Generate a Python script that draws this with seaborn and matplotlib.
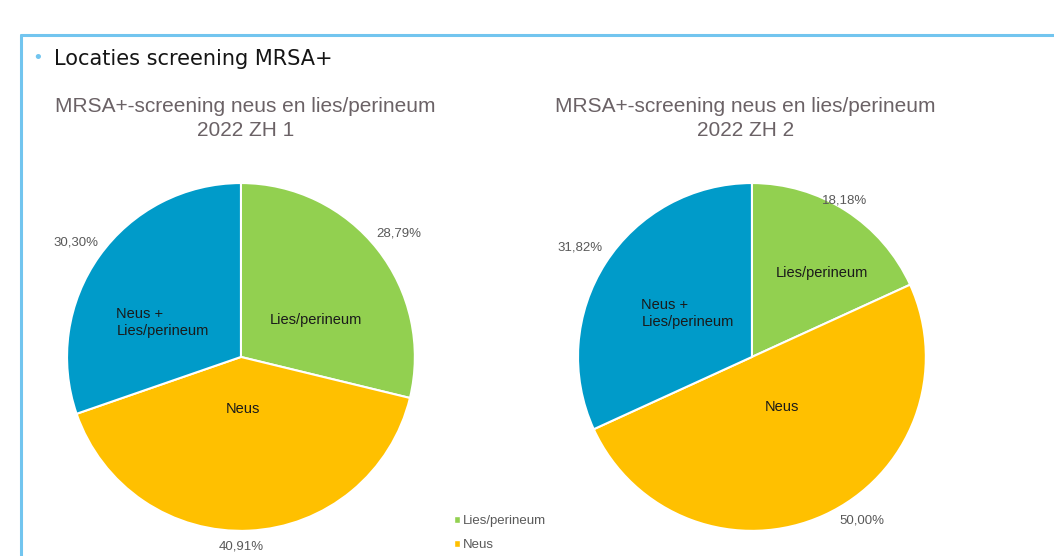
import matplotlib
matplotlib.use("Agg")
import matplotlib.pyplot as plt
from matplotlib.lines import Line2D
from matplotlib.patches import Patch
import seaborn as sns

# data
categories = ["Lies/perineum", "Neus", "Neus +\nLies/perineum"]
zh1_values = [28.79, 40.91, 30.30]
zh2_values = [18.18, 50.00, 31.82]
chart_titles = ["MRSA+-screening neus en lies/perineum\n2022 ZH 1",
                "MRSA+-screening neus en lies/perineum\n2022 ZH 2"]
slide_title = "Locaties screening MRSA+"

colors = ["#92D050", "#FFC000", "#009BC9"]
frame_blue = "#72C5EF"
title_grey = "#6B6266"
label_grey = "#595959"

sns.set_theme(style="white")
plt.rcParams["font.family"] = ["Liberation Sans", "DejaVu Sans"]

fig = plt.figure(figsize=(10.54, 5.56), dpi=100)

# slide frame
fig.add_artist(Line2D([0.020, 1.0], [0.937, 0.937], color=frame_blue, lw=2.2))
fig.add_artist(Line2D([0.020, 0.020], [0.0, 0.937], color=frame_blue, lw=2.2))

fig.text(0.036, 0.895, "\u2022", color=frame_blue, fontsize=14, va="center", ha="center")
fig.text(0.051, 0.893, slide_title, family="DejaVu Sans", fontsize=15,
         color="#151515", va="center", ha="left")

# label positions in pie units (radius = 1), per chart
inner_pos = [[(0.43, 0.21), (0.01, -0.30), (-0.45, 0.20)],
             [(0.40, 0.48), (0.17, -0.29), (-0.37, 0.25)]]
pct_pos = [[(0.91, 0.71), (0.0, -1.09), (-0.95, 0.66)],
           [(0.53, 0.90), (0.63, -0.94), (-0.99, 0.63)]]
ax_left = [0.0636, 0.5484]
title_x = [0.233, 0.707]

for i, vals in enumerate([zh1_values, zh2_values]):
    ax = fig.add_axes([ax_left[i], 0.045, 0.330, 0.626])
    ax.pie(vals, colors=colors, startangle=90, counterclock=False,
           wedgeprops=dict(edgecolor="white", linewidth=1.5))
    ax.set_xlim(-1, 1)
    ax.set_ylim(-1, 1)
    ax.set_aspect("equal")
    ax.axis("off")
    for cat, (x, y) in zip(categories, inner_pos[i]):
        ax.text(x, y, cat, ha="center", va="center", multialignment="left",
                fontsize=10.5, color="#1A1A1A", linespacing=1.3)
    for v, (x, y) in zip(vals, pct_pos[i]):
        ax.text(x, y, f"{v:.2f}%".replace(".", ","), ha="center", va="center",
                fontsize=9.5, color=label_grey)
    fig.text(title_x[i], 0.787, chart_titles[i], ha="center", va="center",
             fontsize=15, color=title_grey, linespacing=1.3)

# legend (only first two entries visible on the slide)
handles = [Patch(facecolor=colors[0]), Patch(facecolor=colors[1])]
fig.legend(handles, categories[:2], loc="upper left", bbox_to_anchor=(0.426, 0.083),
           frameon=False, fontsize=9.5, handlelength=0.45, handleheight=0.45,
           handletextpad=0.2, labelspacing=0.9, labelcolor=label_grey,
           borderaxespad=0)

fig.savefig("out.png", dpi=100, facecolor="white")
